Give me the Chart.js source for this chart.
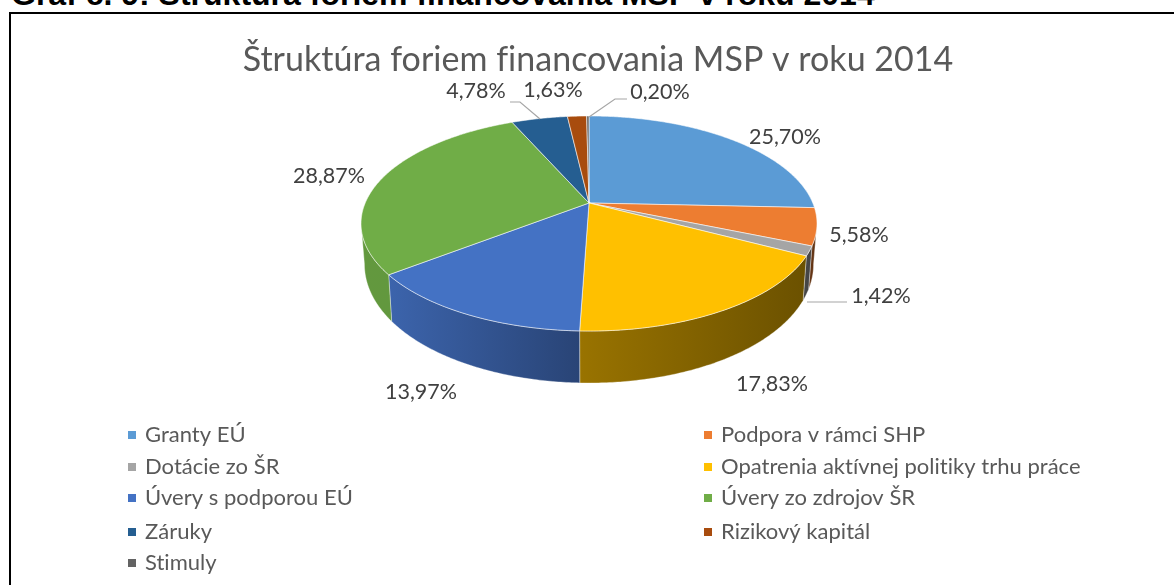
<!DOCTYPE html>
<html><head><meta charset="utf-8">
<style>
html,body{margin:0;padding:0;background:#fff;width:1174px;height:585px;overflow:hidden}
#heading{position:absolute;left:11px;top:-22px;font:bold 32px/32px "Liberation Sans",Arial,sans-serif;color:#000;white-space:nowrap}
#box{position:absolute;left:9px;top:12px;width:1300px;height:700px;border:2px solid #000;box-sizing:border-box}
canvas{position:absolute;left:0;top:0}
</style>
<script src="https://cdn.jsdelivr.net/npm/chart.js@4"></script>
</head><body>
<div id="heading">Graf č. 9: Štruktúra foriem financovania MSP v roku 2014</div>
<div id="box"></div>
<canvas id="c" width="1174" height="585"></canvas>
<script>
const chartTitle = 'Štruktúra foriem financovania MSP v roku 2014';
const categories = ['Granty EÚ','Podpora v rámci SHP','Dotácie zo ŠR','Opatrenia aktívnej politiky trhu práce','Úvery s podporou EÚ','Úvery zo zdrojov ŠR','Záruky','Rizikový kapitál','Stimuly'];
const shares = [25.70,5.58,1.42,17.83,13.97,28.87,4.78,1.63,0.20];
const colors = ['#5B9BD5','#ED7D31','#A5A5A5','#FFC000','#4472C4','#70AD47','#255E91','#A84C0E','#636363'];

// Layout of the perspective view and of the labels placed outside the pie
const view = {cx:589, cy:203, R:223.8, b:103.6, a:0.1907, depth:38, depthGrow:14, bottomShrink:0.985};
const labelCentres = [[785,137],[859,235],[881,296],[772,384],[421,392],[329,176],[476,91],[553,90],[660,92]];
const leaders = {2:[[847,302],[807,302]], 6:[[510,102],[520,102],[540,119]], 8:[[627,99],[615,99],[589,117]]};
const legendCols = [128,704], legendRows = [435,467,498,532,563];

function project(theta, low){
  const u = Math.cos(theta), v = Math.sin(theta), w = 1 - view.a*v;
  let x = view.cx + view.R*u/w, y = view.cy + view.b*v/w;
  if (low){ x = view.cx + (x-view.cx)*view.bottomShrink; y += view.depth + view.depthGrow*v; }
  return [x,y];
}
function shade(hex,f){
  const n = parseInt(hex.slice(1),16);
  return `rgb(${Math.round((n>>16)*f)},${Math.round(((n>>8)&255)*f)},${Math.round((n&255)*f)})`;
}
function wallLight(x){
  if (x <= 390) return 0.88;
  if (x <= 580) return 0.88 - (x-390)/190*0.28;
  return Math.max(0.42, 0.6 - (x-580)/225*0.18);
}
// Slices keep the angles computed by the pie controller; only their drawing is projected.
Chart.ArcElement.prototype.draw = function(ctx){
  const s = this.startAngle, e = this.endAngle, o = this.options;
  const N = Math.max(2, Math.ceil((e-s)/0.01));
  const lo = Math.asin(view.a), hi = Math.PI - lo;
  const ws = Math.max(s,lo), we = Math.min(e,hi);
  ctx.save();
  if (we > ws){
    const top=[], low=[];
    for(let i=0;i<=N;i++){ const t = ws+(we-ws)*i/N; top.push(project(t)); low.push(project(t,true)); }
    const xs = top.concat(low).map(p=>p[0]);
    const x0 = Math.min(...xs), x1 = Math.max(...xs);
    const g = ctx.createLinearGradient(x0,0,x1,0);
    g.addColorStop(0, shade(o.backgroundColor,wallLight(x0)));
    g.addColorStop(1, shade(o.backgroundColor,wallLight(x1)));
    ctx.beginPath();
    top.forEach((p,i)=> i? ctx.lineTo(p[0],p[1]) : ctx.moveTo(p[0],p[1]));
    low.reverse().forEach(p=>ctx.lineTo(p[0],p[1]));
    ctx.closePath();
    ctx.fillStyle = g; ctx.fill();
    ctx.strokeStyle = 'rgba(255,255,255,0.35)'; ctx.lineWidth = 1; ctx.stroke();
  }
  ctx.beginPath();
  ctx.moveTo(view.cx,view.cy);
  for(let i=0;i<=N;i++){ const p = project(s+(e-s)*i/N); ctx.lineTo(p[0],p[1]); }
  ctx.closePath();
  ctx.fillStyle = o.backgroundColor; ctx.fill();
  ctx.strokeStyle = o.borderColor; ctx.lineWidth = o.borderWidth; ctx.stroke();
  ctx.restore();
};

const noLigatures = {
  id:'noLigatures',
  beforeDraw(chart){ chart.ctx.letterSpacing = '0.02px'; }
};
const outsideLabels = {
  id:'outsideLabels',
  afterDatasetsDraw(chart){
    const ctx = chart.ctx;
    ctx.save();
    ctx.strokeStyle = '#a6a6a6'; ctx.lineWidth = 1.2;
    Object.values(leaders).forEach(pts=>{
      ctx.beginPath();
      pts.forEach((p,i)=> i? ctx.lineTo(p[0],p[1]) : ctx.moveTo(p[0],p[1]));
      ctx.stroke();
    });
    ctx.fillStyle = '#404040';
    ctx.font = '21.5px Lato, sans-serif';
    ctx.textAlign='center'; ctx.textBaseline='middle';
    shares.forEach((v,i)=>{
      ctx.fillText(v.toFixed(2).replace('.',',')+'%', labelCentres[i][0], labelCentres[i][1]);
    });
    ctx.restore();
  }
};
const gridLegend = {
  id:'gridLegend',
  afterDraw(chart){
    const ctx = chart.ctx;
    ctx.save();
    ctx.font = '22px Lato, sans-serif';
    ctx.textAlign='left'; ctx.textBaseline='middle';
    categories.forEach((name,i)=>{
      const x = legendCols[i%2], y = legendRows[Math.floor(i/2)];
      ctx.fillStyle = colors[i];
      ctx.fillRect(x,y-4,8,8);
      ctx.fillStyle = '#595959';
      ctx.fillText(name,x+17,y);
    });
    ctx.restore();
  }
};

new Chart(document.getElementById('c'),{
  type:'pie',
  data:{labels:categories,datasets:[{data:shares,backgroundColor:colors,borderColor:'rgba(255,255,255,0.55)',borderWidth:1}]},
  options:{
    responsive:false,animation:false,
    layout:{padding:{top:0,left:32,right:10,bottom:180}},
    plugins:{
      legend:{display:false},tooltip:{enabled:false},
      title:{display:true,text:chartTitle,color:'#595959',font:{family:'Lato, sans-serif',size:34,weight:'normal'},padding:{top:40,bottom:10}}
    }
  },
  plugins:[noLigatures,outsideLabels,gridLegend]
});
</script>
</body></html>
